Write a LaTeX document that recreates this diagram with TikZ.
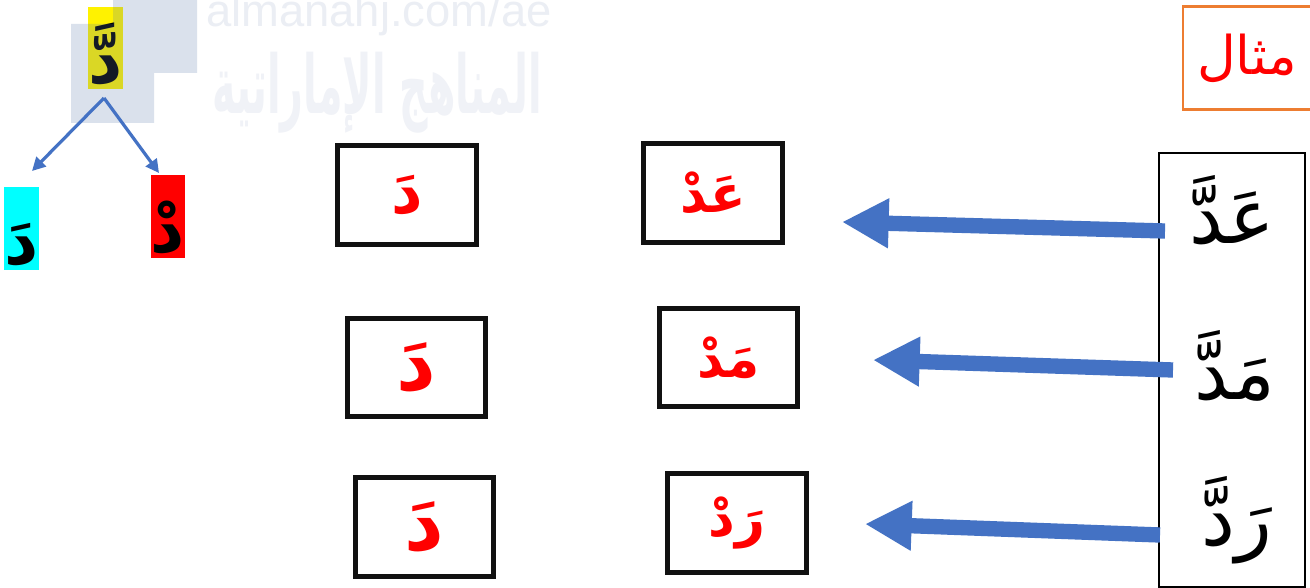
\documentclass[tikz,border=0pt]{standalone}
\usepackage{fontspec}
\usepackage{graphicx}
\setmainfont{Liberation Sans}
\newfontfamily\ar[Script=Arabic]{DejaVu Sans}
\TeXXeTstate=1
\usetikzlibrary{arrows.meta}
\definecolor{arrowblue}{HTML}{4472C4}
\definecolor{wmblue}{HTML}{5A78AA}
\definecolor{wmtext}{HTML}{EBEEF4}
\definecolor{wmar}{HTML}{F0F2F7}
\definecolor{aqua}{HTML}{00FFFF}
\definecolor{orangeb}{HTML}{ED7D31}
\definecolor{boxblack}{HTML}{111111}
\begin{document}
\begin{tikzpicture}[x=0.75pt,y=-0.75pt,
  redbox/.style={draw=boxblack, line width=3.75pt, minimum width=104pt, minimum height=74pt, inner sep=0pt, text=red},
  tagbox/.style={inner sep=0pt, minimum width=24.75pt, minimum height=61.5pt, text height=54pt, text depth=0pt, font=\ar\bfseries\fontsize{50}{54}\selectfont},
  forkarrow/.style={draw=arrowblue, line width=2.4pt, -{Triangle[length=10pt,width=10pt]}},
  bigarrow/.style={draw=arrowblue, line width=11.5pt, -{Triangle[length=35pt,width=35pt]}},
  word/.style={inner sep=0pt, font=\ar\fontsize{57}{60}\selectfont},
]
\useasboundingbox (0,0) rectangle (1310,588);
\fill[white] (0,0) rectangle (1310,588);

% watermark text
\node[anchor=base west, inner sep=0pt, text=wmtext, font=\fontsize{34}{36}\selectfont] (wm1) at (206,27) {almanahj.com/ae};
\node[inner sep=0pt, text=wmar] (wm2) at (377,93) {\resizebox{247pt}{46pt}{\ar\bfseries\beginR المناهج الإماراتية\endR}};

% letter tags
\node[tagbox, fill=yellow] (ytag) at (105.5,48) {\beginR دَّ\endR};
\fill[wmblue, opacity=0.22] (113,0) -- (197,0) -- (197,73) -- (154,73) -- (154,123) -- (71,123) -- (71,24) -- (113,24) -- cycle;
\node[tagbox, fill=aqua] (ctag) at (21.5,228.5) {\beginR دَ\endR};
\node[tagbox, fill=red] (rtag) at (168,216.5) {\beginR دْ\endR};

\coordinate (fork) at (104,98);
\coordinate (ltip) at (32,171);
\coordinate (rtip) at (159,173);
\draw[forkarrow] (fork) -- (ltip);
\draw[forkarrow] (fork) -- (rtip);

% left boxes
\node[redbox, font=\ar\bfseries\fontsize{46}{50}\selectfont] (l1) at (407,195) {\beginR دَ\endR};
\node[redbox, font=\ar\bfseries\fontsize{58}{60}\selectfont] (l2) at (416.5,367.5) {\beginR دَ\endR};
\node[redbox, font=\ar\bfseries\fontsize{58}{60}\selectfont] (l3) at (424.5,527) {\beginR دَ\endR};

% middle boxes
\node[redbox, font=\ar\bfseries\fontsize{39}{42}\selectfont] (m1) at (713,193) {\beginR عَدْ\endR};
\node[redbox, font=\ar\bfseries\fontsize{39}{42}\selectfont] (m2) at (728.5,357.5) {\beginR مَدْ\endR};
\node[redbox, font=\ar\bfseries\fontsize{39}{42}\selectfont] (m3) at (737,523) {\beginR رَدْ\endR};

% example label
\node[draw=orangeb, line width=1.9pt, minimum width=96pt, minimum height=77pt, inner sep=0pt, text=red, font=\ar\fontsize{40}{42}\selectfont] (mithal) at (1247,58) {\beginR مثال\endR};

% column of words
\node[draw=black, line width=1.5pt, minimum width=110pt, minimum height=325pt, inner sep=0pt] (col) at (1232,370) {};
\node[word] (w1) at (1232,210) {\beginR عَدَّ\endR};
\node[word] (w2) at (1235,366) {\beginR مَدَّ\endR};
\node[word] (w3) at (1237,520) {\beginR رَدَّ\endR};

% big arrows
\coordinate (s1) at (1165,231);
\coordinate (t1) at (842,222);
\coordinate (s2) at (1173,370);
\coordinate (t2) at (873,360);
\coordinate (s3) at (1160,535);
\coordinate (t3) at (865,524);
\draw[bigarrow] (s1) -- (t1);
\draw[bigarrow] (s2) -- (t2);
\draw[bigarrow] (s3) -- (t3);
\end{tikzpicture}
\end{document}
